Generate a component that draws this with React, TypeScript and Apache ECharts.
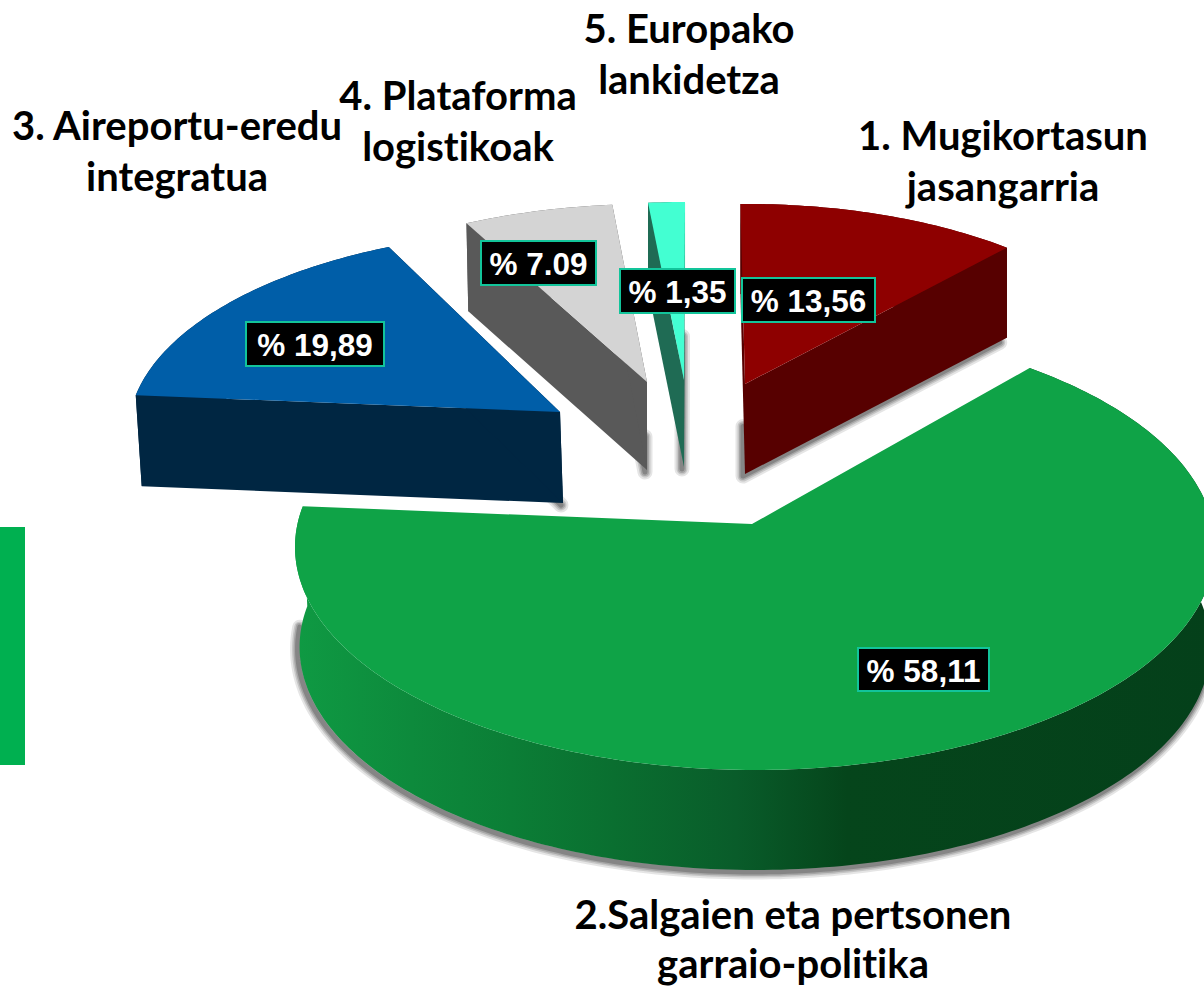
import React, { useEffect, useRef } from "react";
import * as echarts from "echarts";

// The numbers printed on the boxes, exactly as they read in the picture.
const printedLabels = ["% 13,56", "% 58,11", "% 19,89", "% 7.09", "% 1,35"];
// Slice sizes as drawn (in % of a full turn). The reference's sectors are not drawn in proportion
// to their printed numbers, so these are read from the sector shapes.
const drawnShares = [12.1, 65, 16.3, 6.5, 1.6];
const startAngles = [-0.7, 40.7, 274.7, 331.2, 354.4];

const categoryLines = [
  ["1. Mugikortasun", "jasangarria"],
  ["2.Salgaien eta pertsonen", "garraio-politika"],
  ["3. Aireportu-eredu", "integratua"],
  ["4. Plataforma", "logistikoak"],
  ["5. Europako", "lankidetza"],
];

const apexes = [[745, 384], [752, 524], [560, 412], [647, 382], [684, 380]];
const scaleX = [0.905, 1, 0.945, 0.925, 0.9];
const scaleY = [0.9, 1, 0.91, 0.89, 0.89];
const depths = [90, 100, 91, 88, 87];
const wallShift = [0, 0, 3, 0, 0];
const wallScale = [1, 0.99, 0.993, 0.99, 1];
const zOrder = [4, 10, 3, 2, 1];
const topColors = ["#8e0000", "#0fa347", "#005ea8", "#d4d4d4", "#43ffd2"];
const wallColors: any[] = [
  "#570000",
  {
    type: "linear", x: 0, y: 0, x2: 1, y2: 0,
    colorStops: [
      { offset: 0, color: "#0f9a43" },
      { offset: 0.127, color: "#0d8a3c" },
      { offset: 0.235, color: "#0b7e36" },
      { offset: 0.345, color: "#0a6f30" },
      { offset: 0.48, color: "#095c2a" },
      { offset: 0.6, color: "#05451b" },
      { offset: 1, color: "#04401a" },
    ],
  },
  "#002642",
  "#595959",
  "#1f6b54",
];

const labelBoxes = [
  [741, 277, 135, 46],
  [857, 647, 133, 45],
  [245, 321, 140, 46],
  [480, 240, 117, 46],
  [619, 268, 117, 46],
];
const categoryAnchors = [
  [1003, 135],
  [793, 914],
  [177, 125],
  [458, 95],
  [689, 28],
];
const lineSteps = [50.5, 48.5, 50.5, 50.5, 50.5];

const ELL_A = 460;
const ELL_B = 223;
const ELL_OX = 3;
const ELL_OY = 23;
const PERSPECTIVE_ASPECT = 2.07;
const SHADOW_WIDTHS = [15, 11, 8, 5];
const SHADOW_ALPHAS = [0.12, 0.16, 0.2, 0.26];

function rim(i: number, deg: number): number[] {
  const a = (deg * Math.PI) / 180;
  const dx = PERSPECTIVE_ASPECT * Math.sin(a);
  const dy = -Math.cos(a);
  const A = ELL_A * scaleX[i];
  const B = ELL_B * scaleY[i];
  const ox = ELL_OX * scaleX[i];
  const oy = ELL_OY * scaleY[i];
  const q2 = (dx * dx) / (A * A) + (dy * dy) / (B * B);
  const q1 = -2 * ((dx * ox) / (A * A) + (dy * oy) / (B * B));
  const q0 = (ox * ox) / (A * A) + (oy * oy) / (B * B) - 1;
  const t = (-q1 + Math.sqrt(q1 * q1 - 4 * q2 * q0)) / (2 * q2);
  return [apexes[i][0] + t * dx, apexes[i][1] + t * dy];
}

const mix = (p: number[], q: number[], f: number) => [p[0] + (q[0] - p[0]) * f, p[1] + (q[1] - p[1]) * f];

function renderSlice(params: any, api: any) {
  const i = params.dataIndex;
  const sweep = api.value(1) * 3.6;
  const start = startAngles[i];
  const steps = Math.max(4, Math.round(sweep));
  const arc: number[][] = [];
  for (let s = 0; s <= steps; s++) arc.push(rim(i, start + (sweep * s) / steps));
  const apex = apexes[i];
  const drop = (p: number[]) => [
    apex[0] + (p[0] - apex[0]) * wallScale[i] + wallShift[i],
    p[1] + depths[i],
  ];
  const z = zOrder[i];
  const a0 = arc[0];
  const a1 = arc[arc.length - 1];
  const walls: number[][][] = [[...arc, ...arc.slice().reverse().map(drop)]];
  if (i !== 1) {
    walls.push([apex, a0, drop(a0), drop(apex)]);
    walls.push([apex, a1, drop(a1), drop(apex)]);
  }
  // Lower silhouette of the walls, along which the soft cast shadow runs.
  let rimLine: number[][];
  if (i === 1) {
    rimLine = arc.map(drop).filter((p) => p[1] > 625);
  } else if (i === 0) {
    rimLine = [mix(apex, drop(apex), 0.45), drop(apex), mix(drop(apex), drop(a1), 0.98)];
  } else if (i === 2) {
    rimLine = [mix(a1, drop(a1), 0.75), drop(a1), drop(apex)];
  } else if (i === 3) {
    rimLine = [mix(a1, drop(a1), 0.75), drop(a1), drop(apex), mix(apex, drop(apex), 0.6)];
  } else {
    rimLine = [mix(a1, drop(apex), 0.5), drop(apex), mix(apex, drop(apex), 0.5)];
  }
  const children: any[] = [];
  SHADOW_WIDTHS.forEach((w, k) => {
    children.push({
      type: "polyline",
      z2: z - 0.1 + k * 0.01,
      x: -2,
      y: 2,
      shape: { points: rimLine },
      style: { fill: "none", stroke: `rgba(40,40,40,${SHADOW_ALPHAS[k]})`, lineWidth: w, lineJoin: "round", lineCap: "round" },
    });
  });
  walls.forEach((points) => {
    children.push({
      type: "polygon",
      z2: z + 0.2,
      shape: { points },
      style: { fill: wallColors[i] },
    });
  });
  children.push({
    type: "polygon",
    z2: z + 0.5,
    shape: { points: [apex, ...arc] },
    style: { fill: topColors[i] },
  });
  return { type: "group", children };
}

function buildGraphics() {
  const els: any[] = [
    { type: "rect", z: 50, shape: { x: 0, y: 527, width: 25, height: 238 }, style: { fill: "#00b050" } },
  ];
  printedLabels.forEach((text, i) => {
    const [x, y, w, h] = labelBoxes[i];
    els.push({
      type: "rect",
      z: 60,
      shape: { x: x + 1, y: y + 1, width: w - 2, height: h - 2 },
      style: { fill: "#000000", stroke: "#12c49a", lineWidth: 2 },
    });
    els.push({
      type: "text",
      z: 61,
      x: x + w / 2,
      y: y + h / 2 + 1,
      style: {
        text,
        fill: "#ffffff",
        font: 'bold 31.5px "Liberation Sans", Arial, sans-serif',
        align: "center",
        verticalAlign: "middle",
      },
    });
  });
  categoryLines.forEach((lines, i) => {
    const [cx, cy] = categoryAnchors[i];
    lines.forEach((text, l) => {
      els.push({
        type: "text",
        z: 70,
        x: cx,
        y: cy + l * lineSteps[i],
        style: {
          text,
          fill: "#000000",
          font: 'bold 40px Lato, "Noto Sans", sans-serif',
          align: "center",
          verticalAlign: "middle",
        },
      });
    });
  });
  return els;
}

export default function App() {
  const ref = useRef<HTMLDivElement>(null);
  useEffect(() => {
    const chart = echarts.init(ref.current!, undefined, { renderer: "svg" });
    chart.setOption({
      animation: false,
      backgroundColor: "#ffffff",
      graphic: { elements: buildGraphics() },
      series: [
        {
          type: "custom",
          coordinateSystem: "none",
          silent: true,
          clip: false,
          renderItem: renderSlice,
          data: drawnShares.map((v, i) => [i, v]),
        },
      ],
    });
    return () => chart.dispose();
  }, []);
  return (
    <>
      <style>{`text{font-variant-ligatures:none !important;font-feature-settings:"liga" 0 !important}`}</style>
      <div
        ref={ref}
        style={{ position: "fixed", left: 0, top: 0, width: 1204, height: 987, overflow: "hidden" }}
      />
    </>
  );
}
